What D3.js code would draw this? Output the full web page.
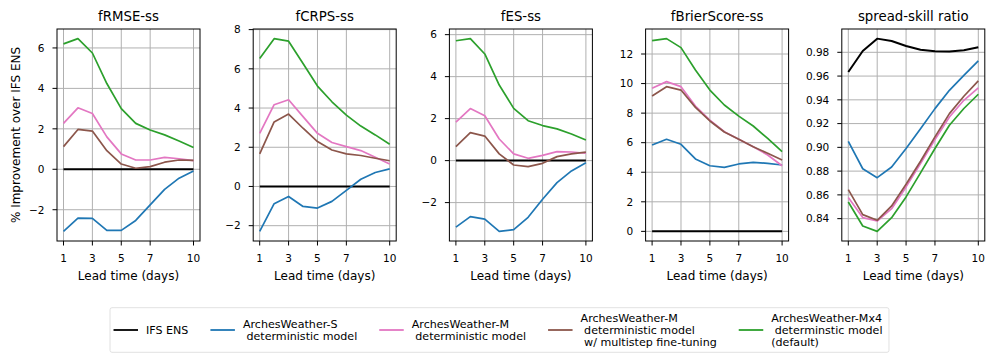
<!DOCTYPE html>
<html>
<head>
<meta charset="utf-8">
<script src="https://cdn.jsdelivr.net/npm/d3@7"></script>
<style>
  body { margin: 0; background: #fff; }
  svg text { font-family: "DejaVu Sans", sans-serif; fill: #000; }
</style>
</head>
<body>
<svg id="main_svg_container" width="996" height="363"></svg>
<script>
// lead times (days)
const leadTimes = [1, 2, 3, 4, 5, 6, 7, 8, 9, 10];
const xTicks = [1, 3, 5, 7, 10];

// series, in drawing order
const seriesNames = [
  "IFS ENS",
  "ArchesWeather-S\n deterministic model",
  "ArchesWeather-M\n deterministic model",
  "ArchesWeather-M\n deterministic model\n w/ multistep fine-tuning",
  "ArchesWeather-Mx4\n determinstic model\n(default)"
];
const seriesColors = ["#000000", "#1f77b4", "#e377c2", "#8c564b", "#2ca02c"];

const panelTitles = ["fRMSE-ss", "fCRPS-ss", "fES-ss", "fBrierScore-ss", "spread-skill ratio"];
const tickCounts = [5, 5, 5, 5, 8];

// one row per series, same order as seriesNames
const fRMSE = [
  [0, 0, 0, 0, 0, 0, 0, 0, 0, 0],
  [-3.07, -2.42, -2.43, -3.02, -3.02, -2.53, -1.76, -0.99, -0.44, -0.08],
  [2.27, 3.04, 2.76, 1.6, 0.76, 0.46, 0.46, 0.59, 0.52, 0.43],
  [1.12, 1.97, 1.89, 0.92, 0.26, 0.05, 0.13, 0.35, 0.46, 0.44],
  [6.2, 6.46, 5.75, 4.24, 3.0, 2.27, 1.94, 1.7, 1.4, 1.08]
];
const fCRPS = [
  [0, 0, 0, 0, 0, 0, 0, 0, 0, 0],
  [-2.29, -0.88, -0.51, -1.02, -1.1, -0.76, -0.2, 0.37, 0.71, 0.9],
  [2.71, 4.17, 4.42, 3.56, 2.71, 2.24, 2.03, 1.83, 1.49, 1.15],
  [1.66, 3.29, 3.69, 2.97, 2.29, 1.86, 1.66, 1.58, 1.44, 1.31],
  [6.53, 7.54, 7.41, 6.27, 5.12, 4.32, 3.64, 3.08, 2.63, 2.15]
];
const fES = [
  [0, 0, 0, 0, 0, 0, 0, 0, 0, 0],
  [-3.17, -2.67, -2.79, -3.37, -3.29, -2.7, -1.84, -1.05, -0.49, -0.1],
  [1.83, 2.48, 2.14, 1.03, 0.32, 0.11, 0.25, 0.43, 0.41, 0.35],
  [0.67, 1.33, 1.17, 0.32, -0.21, -0.29, -0.13, 0.19, 0.32, 0.4],
  [5.71, 5.81, 5.08, 3.6, 2.49, 1.9, 1.67, 1.51, 1.27, 0.98]
];
const fBrier = [
  [0, 0, 0, 0, 0, 0, 0, 0, 0, 0],
  [5.84, 6.23, 5.89, 4.9, 4.44, 4.33, 4.56, 4.67, 4.6, 4.49],
  [9.68, 10.13, 9.79, 8.48, 7.53, 6.74, 6.23, 5.73, 5.17, 4.44],
  [9.16, 9.79, 9.56, 8.39, 7.47, 6.72, 6.23, 5.73, 5.28, 4.83],
  [12.9, 13.04, 12.43, 10.92, 9.56, 8.55, 7.8, 7.13, 6.29, 5.39]
];
const spreadSkill = [
  [0.9634, 0.9811, 0.9915, 0.9895, 0.9853, 0.9822, 0.9808, 0.9806, 0.9817, 0.9842],
  [0.9051, 0.882, 0.8745, 0.8835, 0.899, 0.9157, 0.9326, 0.948, 0.9606, 0.9727],
  [0.8577, 0.8409, 0.838, 0.8484, 0.8667, 0.8864, 0.9066, 0.9256, 0.9396, 0.95],
  [0.8644, 0.8434, 0.8386, 0.8507, 0.869, 0.8883, 0.9088, 0.9284, 0.943, 0.9559],
  [0.854, 0.8338, 0.8293, 0.8408, 0.8583, 0.8785, 0.899, 0.9186, 0.9327, 0.9447]
];
const panelData = [fRMSE, fCRPS, fES, fBrier, spreadSkill];

// layout
const panel_left = 57, panel_step = 196.2, panel_width = 143;
const panel_top = 29, panel_bottom = 241;
const tick_len = 4.5;

const svg = d3.select("#main_svg_container");

panelData.forEach(function(data, p) {
  const x0 = panel_left + p * panel_step;
  const g = svg.append("g").attr("transform", "translate(" + x0 + ",0)");

  // matplotlib style 5% margins
  const x = d3.scaleLinear().domain([0.55, 10.45]).range([0, panel_width]);
  const ext = d3.extent(data.flat());
  const pad = (ext[1] - ext[0]) * 0.05;
  const y = d3.scaleLinear().domain([ext[0] - pad, ext[1] + pad]).range([panel_bottom, panel_top]);
  const yTicks = y.ticks(tickCounts[p]);
  const fmt = p === 4 ? d3.format(".2f") : d3.format("d");

  // grid
  g.selectAll(".gx").data(xTicks).join("line")
      .attr("x1", d => x(d)).attr("x2", d => x(d))
      .attr("y1", panel_top).attr("y2", panel_bottom)
      .attr("stroke", "#b0b0b0").attr("stroke-width", 1);
  g.selectAll(".gy").data(yTicks).join("line")
      .attr("class", "gy")
      .attr("x1", 0).attr("x2", panel_width)
      .attr("y1", d => y(d)).attr("y2", d => y(d))
      .attr("stroke", "#b0b0b0").attr("stroke-width", 1);

  // series
  const line = d3.line().x((d, i) => x(leadTimes[i])).y(d => y(d));
  data.forEach(function(vals, s) {
    g.append("path")
        .attr("d", line(vals))
        .attr("fill", "none")
        .attr("stroke", seriesColors[s])
        .attr("stroke-width", s === 0 ? 2 : 1.7)
        .attr("stroke-linejoin", "round");
  });

  // frame
  g.append("rect")
      .attr("x", 0).attr("y", panel_top)
      .attr("width", panel_width).attr("height", panel_bottom - panel_top)
      .attr("fill", "none").attr("stroke", "#000").attr("stroke-width", 1);

  // x ticks
  g.selectAll(".tx").data(xTicks).join("line")
      .attr("x1", d => x(d)).attr("x2", d => x(d))
      .attr("y1", panel_bottom).attr("y2", panel_bottom + tick_len)
      .attr("stroke", "#000");
  g.selectAll(".lx").data(xTicks).join("text")
      .attr("x", d => x(d)).attr("y", panel_bottom + 20.5)
      .attr("text-anchor", "middle")
      .style("font-size", "10.5px")
      .text(d => d);

  // y ticks
  g.selectAll(".ty").data(yTicks).join("line")
      .attr("x1", -tick_len).attr("x2", 0)
      .attr("y1", d => y(d)).attr("y2", d => y(d))
      .attr("stroke", "#000");
  g.selectAll(".ly").data(yTicks).join("text")
      .attr("x", -12.5).attr("y", d => y(d))
      .attr("dy", "0.36em")
      .attr("text-anchor", "end")
      .style("font-size", "10.5px")
      .text(d => fmt(d).replace("-", "\u2212"));

  // title & x label
  g.append("text")
      .attr("x", panel_width / 2).attr("y", 21)
      .attr("text-anchor", "middle")
      .style("font-size", "13.3px")
      .text(panelTitles[p]);
  g.append("text")
      .attr("x", panel_width / 2).attr("y", 279.5)
      .attr("text-anchor", "middle")
      .style("font-size", "12px")
      .text("Lead time (days)");
});

// y label
svg.append("text")
    .attr("transform", "translate(20," + ((panel_top + panel_bottom) / 2) + ") rotate(-90)")
    .attr("text-anchor", "middle")
    .style("font-size", "12px")
    .text("% Improvement over IFS ENS");

// legend
const leg_cy = 330, line_h = 11.8, handle_len = 24.5, handle_gap = 8, col_gap = 22;
const legend = svg.append("g");
const legBox = legend.append("rect");
let cursor = 0;
seriesNames.forEach(function(name, s) {
  const lines = name.split("\n");
  legend.append("line")
      .attr("x1", cursor).attr("x2", cursor + handle_len)
      .attr("y1", leg_cy).attr("y2", leg_cy)
      .attr("stroke", seriesColors[s]).attr("stroke-width", 1.8);
  const t = legend.append("text")
      .style("font-size", "11.1px")
      .style("white-space", "pre");
  lines.forEach(function(l, i) {
    t.append("tspan")
        .attr("x", cursor + handle_len + handle_gap)
        .attr("y", leg_cy + (i - (lines.length - 1) / 2) * line_h)
        .attr("dy", "0.36em")
        .text(l);
  });
  const textWidth = d3.max(t.selectAll("tspan").nodes(), n => n.getComputedTextLength());
  cursor += handle_len + handle_gap + textWidth + col_gap;
});
const legWidth = cursor - col_gap;
const legLeft = 498 - legWidth / 2;
legend.attr("transform", "translate(" + legLeft + ",0)");
legBox.attr("x", -3.5).attr("y", 307.7)
    .attr("width", legWidth + 10).attr("height", 44.6)
    .attr("rx", 2)
    .attr("fill", "#fff").attr("stroke", "#d9d9d9").attr("stroke-width", 0.8);
</script>
</body>
</html>
